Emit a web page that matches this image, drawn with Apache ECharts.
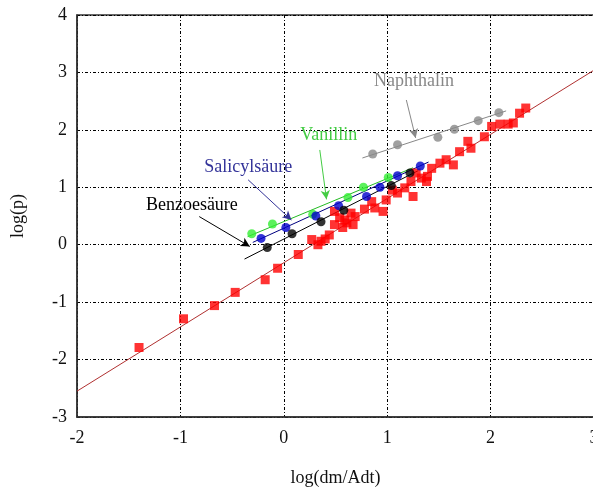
<!DOCTYPE html>
<html><head><meta charset="utf-8">
<script src="https://cdn.jsdelivr.net/npm/echarts@6/dist/echarts.min.js"></script>
<style>html,body{margin:0;padding:0;background:#fff}#c{width:593px;height:493px}</style>
</head><body><div id="c"></div>
<script>
// ---- data ----
const xTicks = [-2, -1, 0, 1, 2, 3];
const yTicks = [-3, -2, -1, 0, 1, 2, 3, 4];

const redX = [-1.40,-0.97,-0.67,-0.47,-0.18,-0.06,0.14,0.27,0.33,0.36,0.44,0.49,0.54,0.49,0.61,0.65,0.59,0.67,0.69,0.85,0.88,0.96,0.99,1.10,1.17,1.23,1.25,1.28,1.33,1.39,1.38,1.43,1.51,1.57,1.64,1.70,1.78,1.81,1.94,2.01,2.09,2.17,2.22,2.28,2.34,0.40,0.57,0.78,1.05];
const redY = [-1.79,-1.29,-1.06,-0.83,-0.61,-0.41,-0.17,0.09,0.00,0.06,0.17,0.35,0.47,0.58,0.38,0.55,0.43,0.35,0.49,0.75,0.64,0.58,0.78,0.90,0.99,1.10,0.84,1.25,1.16,1.19,1.10,1.33,1.42,1.48,1.39,1.62,1.80,1.68,1.88,2.06,2.10,2.10,2.12,2.29,2.38,0.10,0.30,0.62,0.95];
const redFitX = [-2, 3];
const redFitY = [-2.55, 3.04];

const naphX = [0.86,1.10,1.49,1.65,1.88,2.08];
const naphY = [1.58,1.74,1.87,2.01,2.16,2.30];
const naphFitX = [0.76, 2.15];
const naphFitY = [1.51, 2.33];

const vanX = [-0.31,-0.11,0.28,0.62,0.77,1.01];
const vanY = [0.19,0.36,0.53,0.82,1.00,1.17];
const vanFitX = [-0.35, 1.25];
const vanFitY = [0.14, 1.34];

const salX = [-0.22,0.02,0.31,0.53,0.80,0.93,1.10,1.32];
const salY = [0.11,0.30,0.50,0.68,0.84,1.00,1.20,1.37];
const salFitX = [-0.30, 1.40];
const salFitY = [0.04, 1.44];

const benX = [-0.16,0.08,0.36,0.58,1.04,1.22];
const benY = [-0.05,0.19,0.40,0.60,1.03,1.25];
const benFitX = [-0.38, 1.30];
const benFitY = [-0.25, 1.29];

const labels = ['Naphthalin','Vanillin','Salicylsäure','Benzoesäure'];
const labelColors = ['#888888','#44cc44','#333399','#000000'];
const labelPos = [[1.26,2.85],[0.435,1.91],[-0.343,1.34],[-0.889,0.68]];
const arrowFrom = [[1.185,2.52],[0.348,1.65],[-0.345,1.13],[-0.818,0.49]];
const arrowTo = [[1.275,1.86],[0.413,0.79],[0.074,0.43],[-0.329,-0.03]];

// ---- build ----
const zip = (a,b) => a.map((v,i)=>[v,b[i]]);
const FONT = '"Liberation Serif","Times New Roman",serif';

function scatter(name, xs, ys, color, symbol, size){
  return {name, type:'scatter', data:zip(xs,ys), symbol, symbolSize:size,
    itemStyle:{color}, z:5, silent:true};
}
function fit(xs, ys, color){
  return {type:'line', data:zip(xs,ys), showSymbol:false, symbol:'none',
    lineStyle:{color, width:1}, z:3, silent:true};
}

const series = [
  fit(redFitX, redFitY, '#b03030'),
  fit(naphFitX, naphFitY, '#888888'),
  fit(vanFitX, vanFitY, '#22bb22'),
  fit(salFitX, salFitY, '#000080'),
  fit(benFitX, benFitY, '#000000'),
  scatter('red', redX, redY, '#ff0000', 'rect', 9),
  scatter('naph', naphX, naphY, '#888888', 'circle', 9),
  scatter('van', vanX, vanY, '#33ee33', 'circle', 9),
  scatter('sal', salX, salY, '#0000cc', 'circle', 9),
  scatter('ben', benX, benY, '#000000', 'circle', 9)
];

labels.forEach((t,i)=>{
  series.push({type:'line', data:[], silent:true, z:6,
    markLine:{silent:true, symbol:['none','arrow'], symbolSize:[7,9],
      lineStyle:{color:labelColors[i], width:1, type:'solid'},
      label:{show:false},
      data:[[{coord:arrowFrom[i]},{coord:arrowTo[i]}]]},
    markPoint:{silent:true, symbol:'circle', symbolSize:0,
      data:[{coord:labelPos[i], label:{show:true, formatter:t, color:labelColors[i],
        fontFamily:FONT, fontSize:18, position:'inside'}}]}
  });
});

const chart = echarts.init(document.getElementById('c'), null, {renderer:'canvas'});
const gridLine = {show:true, lineStyle:{color:'#000', width:1, type:[3,2,1,2]}};
chart.setOption({
  animation:false,
  backgroundColor:'#fff',
  grid:{left:77, top:15, width:517, height:402, show:true, borderColor:'#333', borderWidth:1.5,
    containLabel:false, outerBoundsMode:'none'},
  xAxis:{type:'value', min:xTicks[0], max:xTicks[xTicks.length-1], interval:1,
    name:'log(dm/Adt)', nameLocation:'middle', nameGap:52,
    nameTextStyle:{fontFamily:FONT, fontSize:18, color:'#111'},
    axisLine:{show:true, onZero:false, lineStyle:{color:'#333', width:1.5}},
    axisTick:{show:false},
    axisLabel:{fontFamily:FONT, fontSize:18, color:'#111', margin:12},
    splitLine:gridLine},
  yAxis:{type:'value', min:yTicks[0], max:yTicks[yTicks.length-1], interval:1,
    name:'log(p)', nameLocation:'middle', nameGap:50,
    nameTextStyle:{fontFamily:FONT, fontSize:18, color:'#111'},
    axisLine:{show:true, onZero:false, lineStyle:{color:'#333', width:1.5}},
    axisTick:{show:false},
    axisLabel:{fontFamily:FONT, fontSize:18, color:'#111', margin:10},
    splitLine:gridLine},
  series
});
</script></body></html>
